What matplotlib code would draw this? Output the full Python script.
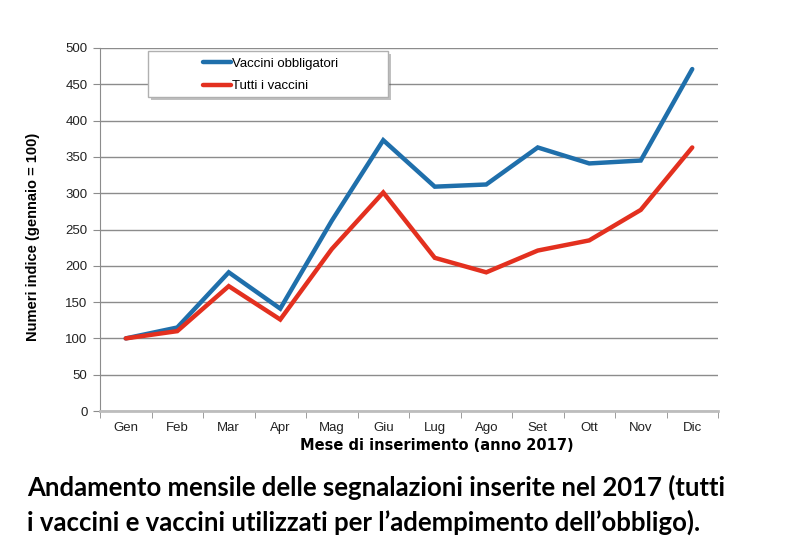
import matplotlib
matplotlib.use("Agg")
import matplotlib.pyplot as plt
from matplotlib.patches import Rectangle
import matplotlib.patheffects as pe

months = ["Gen", "Feb", "Mar", "Apr", "Mag", "Giu", "Lug", "Ago", "Set", "Ott", "Nov", "Dic"]
vaccini_obbligatori = [100, 115, 191, 141, 262, 373, 309, 312, 363, 341, 345, 471]
tutti_i_vaccini = [100, 110, 172, 126, 223, 301, 211, 191, 221, 235, 277, 363]
yticks = [0, 50, 100, 150, 200, 250, 300, 350, 400, 450, 500]

fig = plt.figure(figsize=(8.02, 5.46), dpi=100)
ax = fig.add_axes([100/802, 1-411/546, 618/802, 363/546])

x = list(range(len(months)))
ax.plot(x, vaccini_obbligatori, color="#1f6fab", lw=3.2, solid_capstyle="round",
        solid_joinstyle="miter", label="Vaccini obbligatori", zorder=3)
ax.plot(x, tutti_i_vaccini, color="#e3301f", lw=3.2, solid_capstyle="round",
        solid_joinstyle="miter", label="Tutti i vaccini", zorder=3)

ax.set_xlim(-0.5, len(months) - 0.5)
ax.set_ylim(0, 500)
ax.set_yticks(yticks)
ax.set_yticklabels([str(v) for v in yticks], fontfamily="Liberation Sans", fontsize=9.5, color="#222222")
ax.set_xticks(x)
ax.set_xticklabels(months, fontfamily="Liberation Sans", fontsize=9.5, color="#222222")
ax.set_xticks([i - 0.5 for i in range(len(months) + 1)], minor=True)
ax.tick_params(axis="x", which="major", length=0, pad=8)
ax.tick_params(axis="x", which="minor", length=5, color="#8c8c8c", direction="out")
ax.tick_params(axis="y", length=5, color="#8c8c8c", direction="out", pad=4)

ax.grid(axis="y", color="#8c8c8c", lw=1)
ax.set_axisbelow(True)
for s in ["top", "right"]:
    ax.spines[s].set_visible(False)
ax.spines["left"].set_color("#8c8c8c")
ax.spines["bottom"].set_color("#bdbdbd")
ax.spines["bottom"].set_linewidth(2)

ax.set_ylabel("Numeri indice (gennaio = 100)", fontfamily="Liberation Sans",
              fontweight="bold", fontsize=10.5)
ax.yaxis.set_label_coords((40 - 100) / 618, (411 - 237) / 363)
ax.set_xlabel("Mese di inserimento (anno 2017)", fontfamily="DejaVu Sans",
              fontweight="bold", fontsize=10.5)
ax.xaxis.set_label_coords((437 - 100) / 618, -0.075)

# legend box
rect = Rectangle((148/802, 1-97/546), 240/802, 46/546, transform=fig.transFigure,
                 facecolor="white", edgecolor="#b0b0b0", lw=1, zorder=5, clip_on=False,
                 path_effects=[pe.SimplePatchShadow(offset=(2, -2), alpha=0.35), pe.Normal()])
ax.add_patch(rect)
leg = ax.legend(loc="upper left", bbox_to_anchor=(191/802, 1-46/546),
                bbox_transform=fig.transFigure, frameon=False,
                prop={"family": "Liberation Sans", "size": 9.5},
                handlelength=2.1, handletextpad=0.1, labelspacing=0.75)
leg.set_zorder(6)

fig.text(27/802, 1-487/546, "Andamento mensile delle segnalazioni inserite nel 2017 (tutti",
         fontfamily="Lato", fontweight="bold", fontsize=18.5, va="center", ha="left")
fig.text(27/802, 1-522/546, "i vaccini e vaccini utilizzati per l\u2019adempimento dell\u2019obbligo).",
         fontfamily="Lato", fontweight="bold", fontsize=18.5, va="center", ha="left")

fig.savefig("out.png", dpi=100)
